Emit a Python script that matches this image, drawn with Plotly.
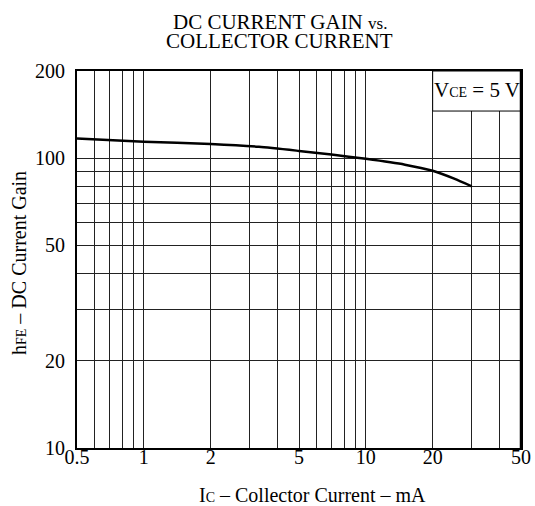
import plotly.graph_objects as go

# Data
ic_ma = [0.5, 1, 2, 3.3, 5, 7, 10, 15, 20, 25, 30]
hfe = [117, 114, 112, 109.5, 106, 103, 99.5, 95, 90.5, 85, 80]

x_grid = [0.5, 0.6, 0.7, 0.8, 0.9, 1, 2, 3, 4, 5, 6, 7, 8, 9, 10, 20, 30, 40, 50]
x_labels = {0.5: "0.5", 1: "1", 2: "2", 5: "5", 10: "10", 20: "20", 50: "50"}
y_grid = [10, 20, 30, 40, 50, 60, 70, 80, 90, 100, 200]
y_labels = {10: "10", 20: "20", 50: "50", 100: "100", 200: "200"}

FONT = "Liberation Serif"
SUB = "<span style='font-size:14px'>{}</span>"

fig = go.Figure()
fig.add_trace(go.Scatter(x=ic_ma, y=hfe, mode="lines",
                         line=dict(color="black", width=2.5, shape="spline", smoothing=0.6),
                         showlegend=False, hoverinfo="skip"))

fig.update_xaxes(type="log", range=[-0.30103, 1.69897], automargin=False,
                 tickvals=x_grid, ticktext=[x_labels.get(v, "") for v in x_grid],
                 showgrid=True, gridcolor="#222", gridwidth=1,
                 showline=True, linecolor="black", linewidth=2, mirror=True,
                 ticks="", zeroline=False, ticklabelstandoff=-10,
                 tickfont=dict(family=FONT, size=20, color="black"))
fig.update_yaxes(type="log", range=[1, 2.30103], automargin=False,
                 tickvals=y_grid, ticktext=[y_labels.get(v, "") for v in y_grid],
                 showgrid=True, gridcolor="#222", gridwidth=1,
                 showline=True, linecolor="black", linewidth=2, mirror=True,
                 ticks="", zeroline=False, ticklabelstandoff=6,
                 tickfont=dict(family=FONT, size=20, color="black"))

# Axis titles
fig.add_annotation(xref="paper", yref="paper", x=(312 - 77) / 444, y=0, yshift=-47,
                   xanchor="center", yanchor="middle", showarrow=False, borderpad=0,
                   text="I" + SUB.format("C") + " – Collector Current – mA",
                   font=dict(family=FONT, size=20, color="black"))
fig.add_annotation(xref="paper", yref="paper", x=0, xshift=-58, y=(448 - 263) / 377,
                   xanchor="center", yanchor="middle", showarrow=False, textangle=-90,
                   text="h" + SUB.format("FE") + " – DC Current Gain",
                   font=dict(family=FONT, size=20, color="black"))

# Legend box with condition
fig.add_shape(type="rect", xref="x", yref="y", x0=20, x1=50, y0=145.5, y1=200,
              fillcolor="white", line=dict(color="black", width=1), layer="above")
fig.add_shape(type="line", xref="paper", yref="paper", x0=1, x1=1, y0=0, y1=1,
              line=dict(color="black", width=2.5), layer="above")
fig.add_annotation(xref="paper", yref="paper", x=0.9, y=1, xanchor="center", yanchor="middle",
                   yshift=-19, text="V" + SUB.format("CE") + " = 5 V", showarrow=False,
                   font=dict(family=FONT, size=21, color="black"))

fig.add_annotation(xref="paper", yref="paper", x=0.457, y=1, yanchor="middle",
                   yshift=49, showarrow=False, borderpad=0,
                   text="DC CURRENT GAIN <span style='font-size:17px'>vs.</span>",
                   font=dict(family=FONT, size=21, color="black"))
fig.add_annotation(xref="paper", yref="paper", x=0.457, y=1, yanchor="middle",
                   yshift=30, showarrow=False, borderpad=0, text="COLLECTOR CURRENT",
                   font=dict(family=FONT, size=21, color="black"))

fig.update_layout(width=535, height=506, margin=dict(l=77, r=14, t=71, b=58),
                  paper_bgcolor="white", plot_bgcolor="white")
fig.write_html("out.html", config={"displayModeBar": False},
               post_script="document.body.style.margin='0';")
